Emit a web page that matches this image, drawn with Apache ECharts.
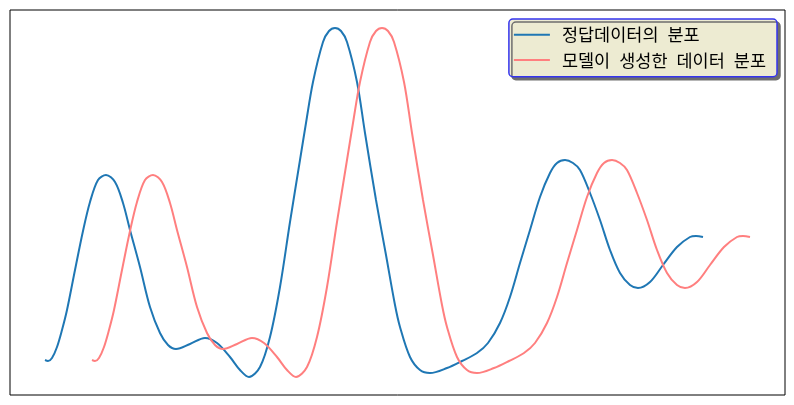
<!DOCTYPE html>
<html>
<head>
<meta charset="utf-8">
<script src="https://cdn.jsdelivr.net/npm/echarts@6/dist/echarts.min.js"></script>
<style>
  html, body { margin: 0; padding: 0; background: #fff; }
  #chart { width: 794px; height: 405px; }
</style>
</head>
<body>
<div id="chart"></div>
<script>
// 시리즈 이름
var seriesNames = ['정답데이터의 분포', '모델이 생성한 데이터 분포'];

// 정답 데이터 (x, 밀도) - 그림에서 읽은 값
var trueX = [35, 38, 42, 47, 52, 57, 65, 73, 80, 88, 96, 105, 113, 120, 130, 140, 150, 158, 166, 180, 195, 207, 220, 230, 239, 250, 260, 270, 280, 290, 296, 303, 313, 319, 325, 331, 337, 347, 355, 366, 376, 385, 390, 400, 410, 420, 437, 452, 467, 478, 490, 500, 510, 520, 530, 540, 547, 555, 563, 570, 580, 590, 600, 610, 620, 628, 640, 653, 667, 680, 686, 693];
var trueY = [35, 34, 37, 48, 65, 85, 125, 164, 193, 215, 220, 213, 192, 165, 128, 88, 62, 50, 46, 51, 57, 52, 38, 25, 18, 28, 58, 108, 173, 235, 272, 313, 353, 364, 367, 364, 353, 313, 262, 195, 140, 90, 68, 38, 25, 22, 27, 34, 42, 52, 72, 98, 132, 165, 198, 222, 232, 235, 232, 225, 202, 175, 145, 122, 110, 107, 113, 130, 148, 158, 159, 158];

// 모델이 생성한 데이터 (x, 밀도)
var genX = [82, 85, 89, 94, 99, 104, 112, 120, 127, 135, 143, 152, 160, 167, 177, 187, 197, 205, 213, 227, 242, 254, 267, 277, 286, 297, 307, 317, 327, 337, 343, 350, 360, 366, 372, 378, 384, 394, 402, 413, 423, 432, 437, 447, 457, 467, 484, 499, 514, 525, 537, 547, 557, 567, 577, 587, 594, 602, 610, 617, 627, 637, 647, 657, 667, 675, 687, 700, 714, 727, 733, 740];
var genY = [35, 34, 37, 48, 65, 85, 125, 164, 193, 215, 220, 213, 192, 165, 128, 88, 62, 50, 46, 51, 57, 52, 38, 25, 18, 28, 58, 108, 173, 235, 272, 313, 353, 364, 367, 364, 353, 313, 262, 195, 140, 90, 68, 38, 25, 22, 27, 34, 42, 52, 72, 98, 132, 165, 198, 222, 232, 235, 232, 225, 202, 175, 145, 122, 110, 107, 113, 130, 148, 158, 159, 158];

function pairs(xs, ys) {
    return xs.map(function (x, i) { return [x, ys[i]]; });
}

var FONT = '"Noto Sans CJK KR", "Noto Sans", sans-serif';
var chart = echarts.init(document.getElementById('chart'));

var option = {
    animation: false,
    textStyle: { fontFamily: FONT },
    grid: {
        left: 10, top: 10, width: 775, height: 385,
        show: true, borderColor: '#000', borderWidth: 1, backgroundColor: 'transparent'
    },
    legend: {
        right: 17,
        top: 19,
        orient: 'vertical',
        align: 'left',
        icon: 'rect',
        itemWidth: 36,
        itemHeight: 2,
        itemGap: 7.7,
        padding: [7, 11, 8, 5],
        backgroundColor: '#edebd2',
        borderColor: '#3535ee',
        borderWidth: 1.5,
        borderRadius: 4,
        shadowColor: 'rgba(110,110,110,1)',
        shadowBlur: 0,
        shadowOffsetX: 3,
        shadowOffsetY: 3,
        // 단어 사이 간격을 넓게 (원본 글꼴과 비슷하게)
        formatter: function (name) {
            return name.split(' ').map(function (w) { return '{t|' + w + '}'; }).join('{s| }');
        },
        textStyle: {
            color: '#000',
            fontFamily: FONT,
            padding: [0, 0, 0, 7],
            rich: {
                t: { fontFamily: FONT, fontSize: 17.5, lineHeight: 16, color: '#000' },
                s: { fontFamily: FONT, fontSize: 17.5, lineHeight: 16, width: 9 }
            }
        },
        data: seriesNames
    },
    xAxis: {
        type: 'value', min: 0, max: 775,
        axisLine: { show: false }, axisTick: { show: false },
        axisLabel: { show: false }, splitLine: { show: false }
    },
    yAxis: {
        type: 'value', min: 0, max: 385,
        axisLine: { show: false }, axisTick: { show: false },
        axisLabel: { show: false }, splitLine: { show: false }
    },
    series: [
        {
            name: seriesNames[0],
            type: 'line',
            symbol: 'none',
            smooth: 0.33,
            lineStyle: { color: '#1f77b4', width: 2 },
            itemStyle: { color: '#1f77b4' },
            data: pairs(trueX, trueY)
        },
        {
            name: seriesNames[1],
            type: 'line',
            symbol: 'none',
            smooth: 0.33,
            lineStyle: { color: '#ff7f7f', width: 2 },
            itemStyle: { color: '#ff7f7f' },
            data: pairs(genX, genY)
        }
    ]
};

chart.setOption(option);
</script>
</body>
</html>
